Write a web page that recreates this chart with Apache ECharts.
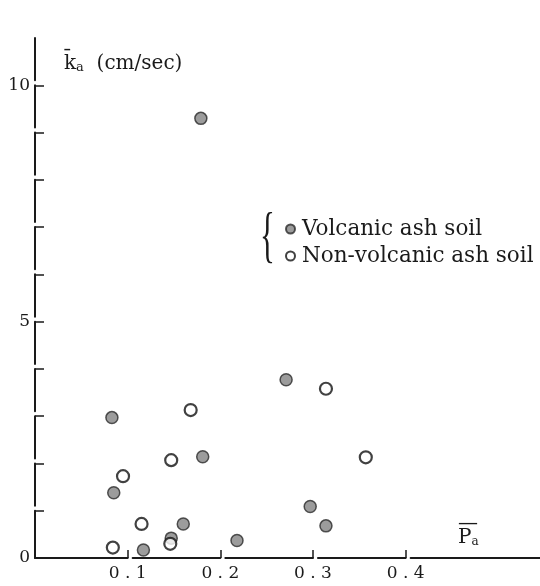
<!DOCTYPE html>
<html>
<head>
<meta charset="utf-8">
<script src="https://cdn.jsdelivr.net/npm/echarts@6/dist/echarts.min.js"></script>
<style>
  html, body { margin: 0; padding: 0; background: #fff; }
  #chart { width: 540px; height: 586px; }
</style>
</head>
<body>
<div id="chart"></div>
<script>
// Mean air-phase content (P̄a) against mean air permeability (k̄a)
const seriesNames = ['Volcanic ash soil', 'Non-volcanic ash soil'];

const volcanicP = [0.179, 0.083, 0.271, 0.181, 0.085, 0.160, 0.147, 0.117, 0.218, 0.297, 0.314];
const volcanicK = [9.30, 2.97, 3.77, 2.14, 1.38, 0.72, 0.42, 0.17, 0.37, 1.09, 0.68];

const nonVolcanicP = [0.168, 0.314, 0.147, 0.095, 0.115, 0.146, 0.084, 0.357];
const nonVolcanicK = [3.13, 3.58, 2.07, 1.73, 0.72, 0.30, 0.22, 2.13];

const xTickValues = [0.1, 0.2, 0.3, 0.4];
const yTickValues = [1, 2, 3, 4, 5, 6, 7, 8, 9, 10];
const yLabelValues = [0, 5, 10];

const pairs = (xs, ys) => xs.map((x, i) => [x, ys[i]]);

const W = 540, H = 586;
const grid = { left: 35, right: 0, top: 38, bottom: 28 };
const xMax = 0.545, yMax = 11;
const gap = 5;

// Axis lines are broken just past each tick, like a hand-ruled plot
const plotW = W - grid.left - grid.right;
const plotH = H - grid.top - grid.bottom;
function brokenLine(step, count, total) {
  const dash = [step, gap];
  for (let i = 1; i < count; i++) dash.push(step - gap, gap);
  dash.push(total);
  return dash;
}
const xDash = brokenLine(plotW / xMax * 0.1, xTickValues.length, plotW);
const yDash = brokenLine(plotH / yMax, yTickValues.length, plotH);

const serif = 'DejaVu Serif';
const ink = '#1a1a1a';
const plain = { fontFamily: serif, fontWeight: 'normal', color: ink };

const chart = echarts.init(document.getElementById('chart'), null, { renderer: 'canvas' });
chart.setOption({
  backgroundColor: '#fff',
  animation: false,
  grid: grid,
  title: [
    {
      left: 59, top: 48,
      text: '{k|k\u0304}{s|a}{u|  (cm/sec)}',
      textStyle: {
        fontWeight: 'normal',
        rich: {
          k: Object.assign({ fontSize: 20 }, plain),
          s: Object.assign({ fontSize: 13, padding: [8, 0, 0, 0] }, plain),
          u: Object.assign({ fontSize: 20 }, plain)
        }
      }
    },
    {
      left: 453, top: 515,
      text: '{o|\u2014}\n{p|P}{s|a}',
      textStyle: {
        fontWeight: 'normal',
        rich: {
          o: Object.assign({ fontSize: 20, lineHeight: 8 }, plain),
          p: Object.assign({ fontSize: 20, lineHeight: 20 }, plain),
          s: Object.assign({ fontSize: 12, padding: [8, 0, 0, 0] }, plain)
        }
      }
    }
  ],
  legend: {
    orient: 'vertical',
    left: 280, top: 213,
    itemWidth: 9, itemHeight: 9, itemGap: 5,
    textStyle: Object.assign({ fontSize: 21.5, padding: [0, 0, 0, 2] }, plain),
    data: [
      { name: seriesNames[0], icon: 'circle' },
      { name: seriesNames[1], icon: 'circle' }
    ]
  },
  graphic: [
    {
      type: 'text', left: 260, top: 208,
      scaleX: 0.5,
      style: { text: '{', fontFamily: 'Liberation Serif', fontSize: 62, fill: ink }
    }
  ],
  xAxis: {
    type: 'value', min: 0, max: xMax,
    splitLine: { show: false },
    axisLine: { show: true, lineStyle: { color: ink, width: 2, type: xDash } },
    axisTick: { show: true, inside: true, length: 8, customValues: xTickValues, lineStyle: { color: ink, width: 1.5 } },
    axisLabel: Object.assign({
      customValues: xTickValues, margin: 7, fontSize: 17,
      formatter: v => v.toFixed(1).split('').join(' ')
    }, plain)
  },
  yAxis: {
    type: 'value', min: 0, max: yMax,
    splitLine: { show: false },
    axisLine: { show: true, lineStyle: { color: ink, width: 2, type: yDash } },
    axisTick: { show: true, inside: true, length: 9, customValues: yTickValues, lineStyle: { color: ink, width: 1.5 } },
    axisLabel: Object.assign({ customValues: yLabelValues, margin: 5, fontSize: 17 }, plain)
  },
  series: [
    {
      name: seriesNames[0], type: 'scatter', symbol: 'circle', symbolSize: 12,
      itemStyle: { color: '#838383', borderColor: '#2a2a2a', borderWidth: 1.5 },
      data: pairs(volcanicP, volcanicK)
    },
    {
      name: seriesNames[1], type: 'scatter', symbol: 'circle', symbolSize: 12,
      itemStyle: { color: '#fff', borderColor: '#111', borderWidth: 2.2 },
      data: pairs(nonVolcanicP, nonVolcanicK)
    }
  ]
});
</script>
</body>
</html>
